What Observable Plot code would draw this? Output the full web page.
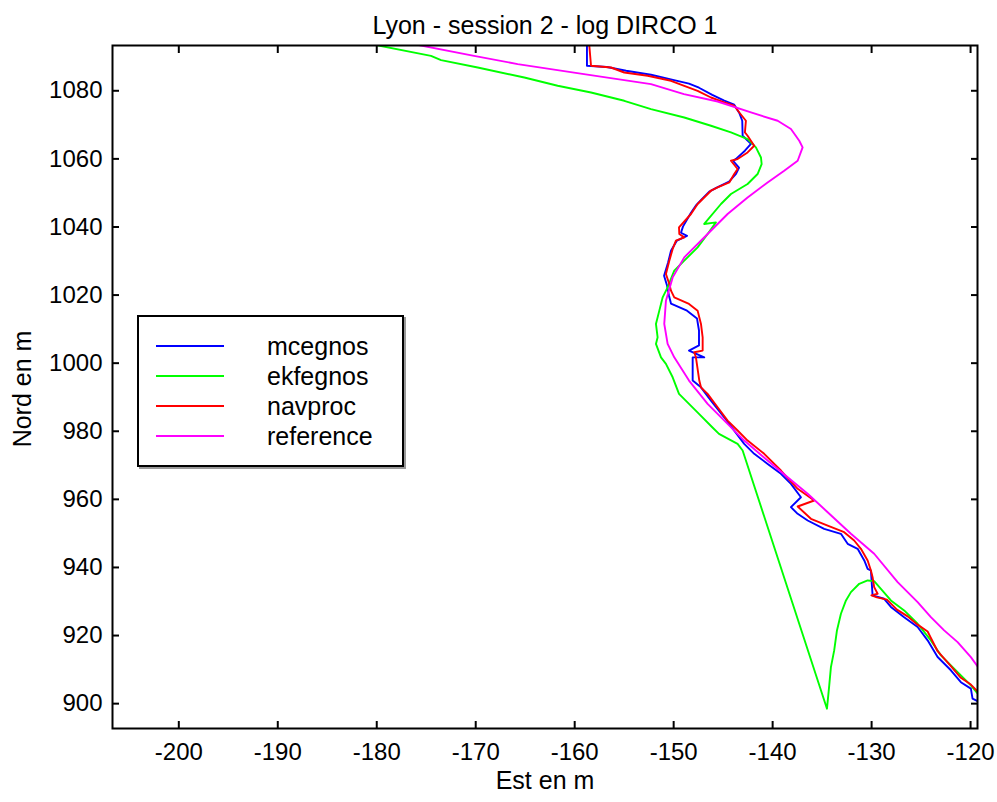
<!DOCTYPE html>
<html>
<head>
<meta charset="utf-8">
<script src="https://cdn.jsdelivr.net/npm/d3@7"></script>
<script src="https://cdn.jsdelivr.net/npm/@observablehq/plot@0.6"></script>
<style>
  body { margin: 0; background: white; }
  #wrap { position: relative; width: 997px; height: 802px; font-family: "Liberation Sans", Arial, sans-serif; }
  #legend { position: absolute; left: 137px; top: 315px; width: 263px; height: 148px; border: 2px solid black; background: white; box-shadow: 2px 2px 0 #999; }
  .row { position: absolute; left: 0; height: 30px; width: 100%; }
  .sw { position: absolute; left: 17px; width: 68px; top: 14px; height: 0; border-top: 2px solid; }
  .lab { position: absolute; left: 128px; top: 0; font-size: 25px; line-height: 30px; color: black; }
</style>
</head>
<body>
<div id="wrap"></div>
<script>
const title = "Lyon - session 2 - log DIRCO 1";
const xLabel = "Est en m";
const yLabel = "Nord en m";
const xTicks = [-200, -190, -180, -170, -160, -150, -140, -130, -120];
const yTicks = [900, 920, 940, 960, 980, 1000, 1020, 1040, 1060, 1080];
const seriesNames = ["mcegnos", "ekfegnos", "navproc", "reference"];
const seriesColors = ["#0000ff", "#00ff00", "#ff0000", "#ff00ff"];

const mcegnosEst = [-158.76,-158.76,-156.74,-154.8,-152.29,-150.07,-148.45,-147.44,-146.1,-144.89,-143.88,-143.37,-143.07,-143.03,-142.19,-142.8,-143.7,-144.0,-143.4,-143.7,-144.4,-145.7,-146.4,-147.2,-147.7,-148.25,-149.06,-149.26,-148.65,-149.67,-150.27,-150.57,-150.97,-150.67,-150.47,-150.27,-148.65,-147.64,-147.44,-147.44,-148.45,-146.91,-148.08,-148.08,-147.24,-146.23,-144.89,-143.88,-142.87,-141.86,-140.5,-139.16,-138.15,-137.14,-138.15,-137.47,-136.46,-134.79,-133.1,-132.42,-131.41,-130.74,-130.4,-130.07,-129.9,-128.73,-128.05,-126.71,-125.35,-124.34,-123.33,-121.99,-120.98,-119.97,-119.8,-119.13];
const mcegnosNord = [1093.5,1087.34,1087.0,1085.9,1084.7,1083.2,1082.1,1080.9,1078.8,1077.1,1075.9,1073.5,1071.2,1066.8,1064.4,1062.4,1060.0,1059.45,1057.4,1055.6,1053.3,1051.5,1050.4,1048.0,1046.5,1044.2,1040.1,1038.3,1037.4,1036.0,1033.0,1029.5,1025.7,1022.8,1019.8,1017.5,1015.4,1013.1,1009.6,1005.2,1003.7,1001.7,1001.7,994.88,992.91,989.0,984.1,980.2,976.3,973.37,970.4,967.5,964.56,960.63,957.7,955.75,953.79,951.35,949.88,946.95,945.48,942.05,939.6,939.11,931.8,930.8,928.4,925.4,922.5,918.6,913.7,909.8,906.3,904.4,901.5,900.5];

const ekfegnosEst = [-180.2,-174.52,-173.5,-169.8,-165.09,-161.72,-158.35,-154.99,-152.29,-148.93,-146.23,-144.21,-142.53,-141.69,-141.18,-141.11,-141.52,-142.53,-144.21,-145.22,-146.91,-145.73,-146.57,-147.58,-148.93,-149.94,-150.61,-151.11,-151.45,-151.79,-151.62,-151.79,-151.28,-150.78,-150.1,-149.46,-148.45,-147.44,-146.1,-145.42,-143.54,-143.03,-134.51,-134.28,-134.11,-133.78,-133.5,-133.1,-132.59,-132.09,-131.25,-130.4,-129.74,-129.06,-128.05,-126.71,-125.35,-124.01,-123.0,-121.99,-120.98,-119.97,-119.13];
const ekfegnosNord = [1093.5,1090.27,1089.0,1086.84,1083.9,1081.47,1079.5,1077.06,1074.63,1072.16,1069.73,1067.76,1065.82,1063.36,1060.42,1058.49,1055.55,1052.62,1049.68,1046.75,1040.88,1041.34,1037.94,1034.01,1030.1,1027.17,1022.27,1019.33,1015.43,1011.52,1007.59,1005.65,1001.72,999.78,995.85,990.98,988.04,985.11,981.17,979.24,976.3,974.34,898.52,905.36,910.73,915.64,921.51,926.41,930.31,932.75,935.21,936.18,935.98,933.74,930.31,927.38,923.47,918.57,914.17,911.23,908.3,905.36,902.43];

const navprocEst = [-158.53,-158.35,-156.33,-154.99,-152.63,-150.27,-148.93,-147.58,-146.23,-144.89,-143.88,-143.37,-142.7,-142.8,-142.53,-141.86,-142.53,-143.54,-144.21,-143.54,-143.88,-144.38,-145.56,-146.23,-147.07,-147.58,-148.25,-149.46,-149.43,-148.93,-149.77,-150.1,-150.44,-150.78,-150.44,-150.27,-149.94,-148.45,-147.58,-147.24,-147.07,-147.07,-147.92,-147.75,-147.41,-147.24,-146.57,-145.56,-144.55,-143.54,-142.53,-140.85,-139.16,-137.47,-135.8,-137.47,-136.13,-134.44,-132.77,-131.76,-131.08,-130.4,-130.07,-129.9,-129.74,-129.39,-130.02,-129.46,-128.45,-127.44,-126.36,-125.35,-124.34,-123.33,-121.99,-120.98,-119.97,-119.13];
const navprocNord = [1093.5,1087.34,1086.84,1085.37,1084.4,1082.94,1081.47,1080.0,1078.03,1076.57,1075.6,1073.63,1071.19,1067.76,1066.79,1063.86,1061.89,1059.95,1059.45,1057.02,1055.55,1053.09,1051.62,1050.65,1048.21,1046.75,1043.81,1039.88,1037.94,1036.94,1035.97,1033.54,1030.1,1026.2,1023.26,1021.3,1019.33,1017.39,1015.43,1011.52,1007.59,1003.69,1003.19,1001.72,994.88,992.91,990.98,987.05,983.14,980.21,977.27,973.37,968.47,963.1,959.66,957.9,954.29,952.32,950.36,947.92,945.48,942.05,939.11,937.15,934.21,932.27,931.8,931.2,930.53,927.6,925.63,923.2,921.2,915.4,911.0,907.6,905.6,903.1];

const referenceEst = [-175.9,-170.17,-165.76,-159.06,-152.29,-148.96,-145.56,-142.19,-139.49,-138.15,-137.31,-136.97,-137.47,-138.83,-140.51,-142.53,-144.55,-146.57,-148.93,-150.1,-150.78,-150.95,-150.61,-149.94,-148.45,-146.57,-144.55,-142.87,-140.51,-138.48,-136.46,-134.44,-132.09,-129.74,-127.37,-125.35,-124.01,-122.67,-121.31,-119.97,-119.13];
const referenceNord = [1093.5,1090.27,1087.84,1084.9,1081.97,1079.03,1076.86,1073.63,1071.19,1068.76,1065.32,1063.36,1059.45,1056.52,1053.09,1048.68,1043.81,1037.94,1031.07,1025.2,1018.36,1011.52,1005.65,1001.72,994.88,988.04,982.17,977.27,971.4,966.5,961.63,956.23,949.89,944.02,935.68,929.81,925.41,921.51,918.07,913.67,910.26];

const seriesEst = [mcegnosEst, ekfegnosEst, navprocEst, referenceEst];
const seriesNord = [mcegnosNord, ekfegnosNord, navprocNord, referenceNord];

const rows = [];
seriesNames.forEach((name, i) => {
  seriesEst[i].forEach((e, j) => rows.push({series: name, est: e, nord: seriesNord[i][j]}));
});

const fmt = d => String(d);

const chart = Plot.plot({
  width: 997,
  height: 802,
  marginLeft: 112,
  marginRight: 20,
  marginTop: 45,
  marginBottom: 74,
  style: {fontFamily: "'Liberation Sans', Arial, sans-serif", fontSize: "24px", color: "black", background: "white"},
  x: {domain: [-206.7, -119.3], label: null},
  y: {domain: [892.7, 1093.3], label: null},
  color: {domain: seriesNames, range: seriesColors},
  marks: [
    Plot.line(rows, {x: "est", y: "nord", z: "series", stroke: "series", strokeWidth: 1.9, clip: true}),
    Plot.frame({stroke: "black", strokeWidth: 2}),
    Plot.axisX(xTicks, {anchor: "bottom", tickSize: -7, tickPadding: 21, strokeWidth: 2, tickFormat: fmt, label: null, fontSize: 24}),
    Plot.axisX(xTicks, {anchor: "top", tickSize: -7, strokeWidth: 2, tickFormat: () => "", label: null}),
    Plot.axisY(yTicks, {anchor: "left", tickSize: -7, tickPadding: 17, strokeWidth: 2, tickFormat: fmt, label: null, fontSize: 24}),
    Plot.axisY(yTicks, {anchor: "right", tickSize: -7, strokeWidth: 2, tickFormat: () => "", label: null}),
    Plot.text([title], {text: d => d, frameAnchor: "top", dy: -29, fontSize: 25}),
    Plot.text([xLabel], {text: d => d, frameAnchor: "bottom", dy: 60, fontSize: 25}),
    Plot.text([yLabel], {text: d => d, frameAnchor: "left", textAnchor: "middle", dx: -90, dy: 2, rotate: -90, fontSize: 25})
  ]
});

const wrap = document.getElementById("wrap");
wrap.appendChild(chart);

const legend = document.createElement("div");
legend.id = "legend";
seriesNames.forEach((name, i) => {
  const row = document.createElement("div");
  row.className = "row";
  row.style.top = (14 + i * 30) + "px";
  const sw = document.createElement("div");
  sw.className = "sw";
  sw.style.borderTopColor = seriesColors[i];
  const lab = document.createElement("div");
  lab.className = "lab";
  lab.textContent = name;
  row.appendChild(sw);
  row.appendChild(lab);
  legend.appendChild(row);
});
wrap.appendChild(legend);
</script>
</body>
</html>
